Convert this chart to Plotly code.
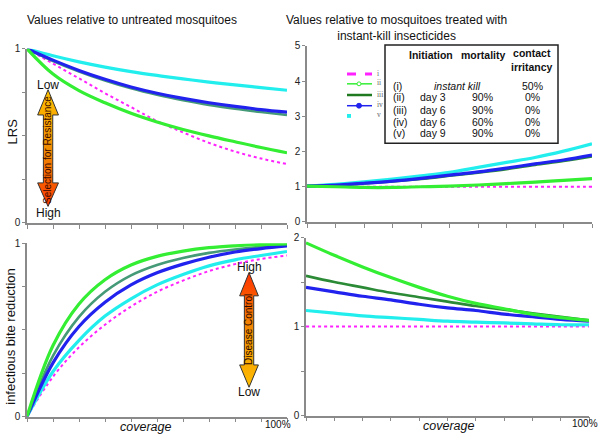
import plotly.graph_objects as go

# ---------------- data ----------------
coverage = [0.0, 0.1, 0.2, 0.3, 0.4, 0.5, 0.6, 0.7, 0.8, 0.9, 1.0]
series_names = ["i", "ii", "iii", "iv", "v"]

# LRS relative to untreated mosquitoes (top-left)
lrs_untreated_i = [1.0, 0.915, 0.83, 0.745, 0.665, 0.585, 0.52, 0.46, 0.41, 0.37, 0.338]
lrs_untreated_ii = [1.0, 0.855, 0.76, 0.69, 0.63, 0.58, 0.537, 0.5, 0.466, 0.433, 0.403]
lrs_untreated_iii = [1.0, 0.93, 0.87, 0.818, 0.773, 0.736, 0.705, 0.678, 0.656, 0.637, 0.62]
lrs_untreated_iv = [1.0, 0.935, 0.876, 0.825, 0.781, 0.745, 0.715, 0.69, 0.669, 0.651, 0.636]
lrs_untreated_v = [1.0, 0.96, 0.925, 0.895, 0.869, 0.847, 0.827, 0.809, 0.793, 0.777, 0.762]

# LRS relative to instant-kill insecticides (top-right)
lrs_instant_i = [1.0, 1.0, 1.0, 1.0, 1.0, 1.0, 1.0, 1.0, 1.0, 1.0, 1.0]
lrs_instant_ii = [1.02, 1.0, 0.98, 0.98, 1.0, 1.02, 1.05, 1.09, 1.13, 1.18, 1.23]
lrs_instant_iii = [1.02, 1.04, 1.09, 1.15, 1.22, 1.31, 1.40, 1.50, 1.62, 1.73, 1.86]
lrs_instant_iv = [1.02, 1.05, 1.10, 1.16, 1.24, 1.33, 1.42, 1.53, 1.65, 1.76, 1.90]
lrs_instant_v = [1.02, 1.07, 1.14, 1.22, 1.31, 1.41, 1.55, 1.69, 1.83, 2.01, 2.22]

# infectious bite reduction relative to untreated (bottom-left)
ibr_untreated_i = [0.0, 0.23, 0.40, 0.53, 0.635, 0.72, 0.785, 0.84, 0.88, 0.91, 0.93]
ibr_untreated_ii = [0.0, 0.41, 0.65, 0.79, 0.875, 0.925, 0.955, 0.975, 0.986, 0.993, 0.997]
ibr_untreated_iii = [0.0, 0.35, 0.575, 0.72, 0.815, 0.875, 0.915, 0.945, 0.965, 0.98, 0.99]
ibr_untreated_iv = [0.0, 0.31, 0.52, 0.66, 0.76, 0.83, 0.88, 0.92, 0.95, 0.97, 0.985]
ibr_untreated_v = [0.0, 0.26, 0.44, 0.58, 0.68, 0.76, 0.82, 0.87, 0.905, 0.93, 0.953]

# infectious bite reduction relative to instant-kill (bottom-right)
ibr_instant_i = [1.0, 1.0, 1.0, 1.0, 1.0, 1.0, 1.0, 1.0, 1.0, 1.0, 1.0]
ibr_instant_ii = [1.94, 1.80, 1.67, 1.55, 1.44, 1.34, 1.26, 1.20, 1.14, 1.10, 1.07]
ibr_instant_iii = [1.57, 1.50, 1.44, 1.38, 1.33, 1.28, 1.23, 1.19, 1.15, 1.11, 1.07]
ibr_instant_iv = [1.44, 1.39, 1.34, 1.30, 1.25, 1.21, 1.18, 1.14, 1.11, 1.08, 1.06]
ibr_instant_v = [1.18, 1.15, 1.12, 1.10, 1.08, 1.06, 1.05, 1.04, 1.03, 1.02, 1.02]

# table contents
table_labels = ["(i)", "(ii)", "(iii)", "(iv)", "(v)"]
table_initiation = ["", "day 3", "day 6", "day 6", "day 9"]
table_mortality = ["", "90%", "90%", "60%", "90%"]
table_irritancy = ["50%", "0%", "0%", "0%", "0%"]

# ---------------- styling ----------------
W, H = 600, 441
FONT = "Liberation Sans"
colors = {"i": "#ff22ff", "ii": "#33ee33", "iii": "#2e8b4a", "iv": "#2222ee", "v": "#22eeee"}
iii_left = "#459a78"
iii_right = "#2a8a35"


def px_x(p):
    return p / W


def px_y(p):
    return 1 - p / H


fig = go.Figure()

panels = [
    ("x", "y", [lrs_untreated_i, lrs_untreated_ii, lrs_untreated_iii, lrs_untreated_iv, lrs_untreated_v], iii_left),
    ("x2", "y2", [lrs_instant_i, lrs_instant_ii, lrs_instant_iii, lrs_instant_iv, lrs_instant_v], iii_right),
    ("x3", "y3", [ibr_untreated_i, ibr_untreated_ii, ibr_untreated_iii, ibr_untreated_iv, ibr_untreated_v], iii_left),
    ("x4", "y4", [ibr_instant_i, ibr_instant_ii, ibr_instant_iii, ibr_instant_iv, ibr_instant_v], iii_right),
]

draw_order = [0, 4, 2, 3, 1]  # magenta, cyan, dark green, blue, green
for xa, ya, ser, c3 in panels:
    for k in draw_order:
        name = series_names[k]
        if name == "i":
            line = dict(color=colors[name], width=2, dash="dot", shape="spline")
        elif name == "iii":
            line = dict(color=c3, width=2.6, shape="spline")
        else:
            line = dict(color=colors[name], width=3.2, shape="spline")
        fig.add_trace(go.Scatter(x=coverage, y=ser[k], mode="lines", line=line,
                                 xaxis=xa, yaxis=ya, showlegend=False, hoverinfo="skip"))


# ---------------- arrows (gradient filled) ----------------
def arrow_outline(cx, hb, hh, y_tip_top, y_head_top, y_head_bot, y_tip_bot):
    xs = [cx, cx + hh, cx + hb, cx + hb, cx + hh, cx, cx - hh, cx - hb, cx - hb, cx - hh, cx]
    ys = [y_tip_top, y_head_top, y_head_top, y_head_bot, y_head_bot, y_tip_bot,
          y_head_bot, y_head_bot, y_head_top, y_head_top, y_tip_top]
    return xs, ys


ax, ay = arrow_outline(0.081, 0.018, 0.040, 0.765, 0.62, 0.23, 0.095)
fig.add_trace(go.Scatter(x=ax, y=ay, mode="lines", fill="toself", xaxis="x", yaxis="y",
                         line=dict(color="#333333", width=1),
                         fillgradient=dict(type="vertical", start=0.095, stop=0.765,
                                           colorscale=[[0, "#ff3300"], [0.5, "#f08a00"], [1, "#ffc000"]]),
                         showlegend=False, hoverinfo="skip"))
bx, by = arrow_outline(0.854, 0.018, 0.036, 0.831, 0.697, 0.298, 0.169)
fig.add_trace(go.Scatter(x=bx, y=by, mode="lines", fill="toself", xaxis="x3", yaxis="y3",
                         line=dict(color="#333333", width=1),
                         fillgradient=dict(type="vertical", start=0.169, stop=0.831,
                                           colorscale=[[0, "#ffc000"], [0.5, "#f29000"], [1, "#ff3300"]]),
                         showlegend=False, hoverinfo="skip"))

# ---------------- axes ----------------
axis_common = dict(showgrid=False, zeroline=False, showline=True, linecolor="#8a8a8a", linewidth=1.5,
                   ticks="outside", tickcolor="#8a8a8a", ticklen=4, tickwidth=1,
                   tickfont=dict(family=FONT, size=10, color="#222"))


def xaxis_def(x0, x1, anchor):
    d = dict(axis_common)
    d.update(domain=[px_x(x0), px_x(x1)], range=[0, 1], dtick=0.1, tick0=0,
             showticklabels=False, anchor=anchor)
    return d


def yaxis_def(y_bottom, y_top, rng, tickvals, minor_dtick, anchor):
    d = dict(axis_common)
    d.update(domain=[px_y(y_bottom), px_y(y_top)], range=rng, tickvals=tickvals,
             ticktext=[str(v) for v in tickvals], anchor=anchor, ticklen=3)
    if minor_dtick:
        d["minor"] = dict(dtick=minor_dtick, ticks="outside", ticklen=3, tickcolor="#8a8a8a", showgrid=False)
    return d


fig.update_layout(
    xaxis=xaxis_def(27, 287, "y"),
    yaxis=yaxis_def(223, 44, [0, 1], [0, 1], 0.25, "x"),
    xaxis2=xaxis_def(307, 592, "y2"),
    yaxis2=yaxis_def(222, 41, [0, 5], [0, 1, 2, 3, 4, 5], None, "x2"),
    xaxis3=xaxis_def(27, 287, "y3"),
    yaxis3=yaxis_def(422, 244, [0, 1], [0, 1], 0.25, "x3"),
    xaxis4=xaxis_def(306, 589, "y4"),
    yaxis4=yaxis_def(421, 238, [0, 2], [0, 1, 2], 0.5, "x4"),
)

# ---------------- annotations ----------------
ann = []
shapes = []
DY = 1


def text(px, py, s, size=12, italic=False, bold=False, color="#111", angle=0, xanchor="center", family=FONT):
    if italic:
        s = "<i>" + s + "</i>"
    if bold:
        s = "<b>" + s + "</b>"
    yy = py - DY if angle == 0 else py
    ann.append(dict(x=px_x(px), y=px_y(yy), xref="paper", yref="paper", text=s, showarrow=False,
                    xanchor=xanchor, yanchor="middle", textangle=angle,
                    font=dict(family=family, size=size, color=color)))


text(132, 15, "Values relative to untreated mosquitoes", size=12)
text(396, 24, "Values relative to mosquitoes treated with<br>instant-kill insecticides", size=12)
text(12, 129, "LRS", size=13, angle=-90)
text(11, 340, "infectious bite reduction", size=13, angle=-90)
text(145, 434, "coverage", size=12.5, italic=True)
text(448, 433, "coverage", size=12.5, italic=True)
text(278, 431, "100%", size=10)
text(585, 430, "100%", size=10)

# arrow labels
text(48, 82, "Low", size=12)
text(48, 214, "High", size=12)
text(48, 148, "Selection for Resistance", size=10, angle=-90, color="#3a0a00")
text(249, 269, "High", size=12)
text(249, 398, "Low", size=12)
text(249, 333, "Disease Control", size=10, angle=-90, color="#2a0a00")

# table
text(431, 51, "Initiation", size=10.5, bold=True)
text(483, 51, "mortality", size=10.5, bold=True)
text(532, 57, "contact<br>irritancy", size=10.5, bold=True)
row_y = [83, 95, 108, 120, 132]
for i in range(5):
    text(391, row_y[i], table_labels[i], size=10.5, xanchor="left")
    if table_initiation[i]:
        text(433, row_y[i], table_initiation[i], size=10.5)
        text(482, row_y[i], table_mortality[i], size=10.5)
    else:
        text(457, row_y[i], "instant kill", size=10.5, italic=True)
    text(532, row_y[i], table_irritancy[i], size=10.5)
shapes.append(dict(type="rect", xref="paper", yref="paper", x0=px_x(385), x1=px_x(558),
                   y0=px_y(141), y1=px_y(40), line=dict(color="#222", width=1.5)))

# manual legend (small, tight spacing like the reference)
leg_y = [70, 80, 91.5, 102.5, 113]
lx0, lx1 = 347, 372
for k, name in enumerate(series_names):
    yy = leg_y[k]
    c = colors[name]
    if name == "i":
        shapes.append(dict(type="line", xref="paper", yref="paper", x0=px_x(lx0), x1=px_x(lx1),
                           y0=px_y(yy), y1=px_y(yy), line=dict(color=c, width=3, dash="dash")))
    elif name == "v":
        shapes.append(dict(type="rect", xref="paper", yref="paper", x0=px_x(347), x1=px_x(351),
                           y0=px_y(yy + 2), y1=px_y(yy - 2), line=dict(width=0), fillcolor=c))
    else:
        lc = "#1f7a1f" if name == "iii" else c
        lw = 2.5 if name == "iii" else 1.5
        shapes.append(dict(type="line", xref="paper", yref="paper", x0=px_x(lx0), x1=px_x(lx1),
                           y0=px_y(yy), y1=px_y(yy), line=dict(color=lc, width=lw)))
        if name == "ii":
            shapes.append(dict(type="circle", xref="paper", yref="paper", x0=px_x(357), x1=px_x(361),
                               y0=px_y(yy + 2), y1=px_y(yy - 2), line=dict(color=c, width=1),
                               fillcolor="white"))
        elif name == "iv":
            shapes.append(dict(type="circle", xref="paper", yref="paper", x0=px_x(356.5), x1=px_x(361.5),
                               y0=px_y(yy + 2.5), y1=px_y(yy - 2.5), line=dict(color=c, width=1),
                               fillcolor=c))
    text(375, yy, name, size=7.5, color="#666", xanchor="left", family="Liberation Serif")

fig.update_layout(
    annotations=ann,
    shapes=shapes,
    width=W, height=H, margin=dict(l=0, r=0, t=0, b=0),
    paper_bgcolor="white", plot_bgcolor="white",
    showlegend=False,
    font=dict(family=FONT),
)

fig.write_html(
    "out.html",
    config={"displayModeBar": False},
    post_script="var gd=document.getElementById('{plot_id}');"
                "document.body.style.margin='0';document.body.style.padding='0';"
                "gd.style.position='absolute';gd.style.left='0px';gd.style.top='0px';",
)
